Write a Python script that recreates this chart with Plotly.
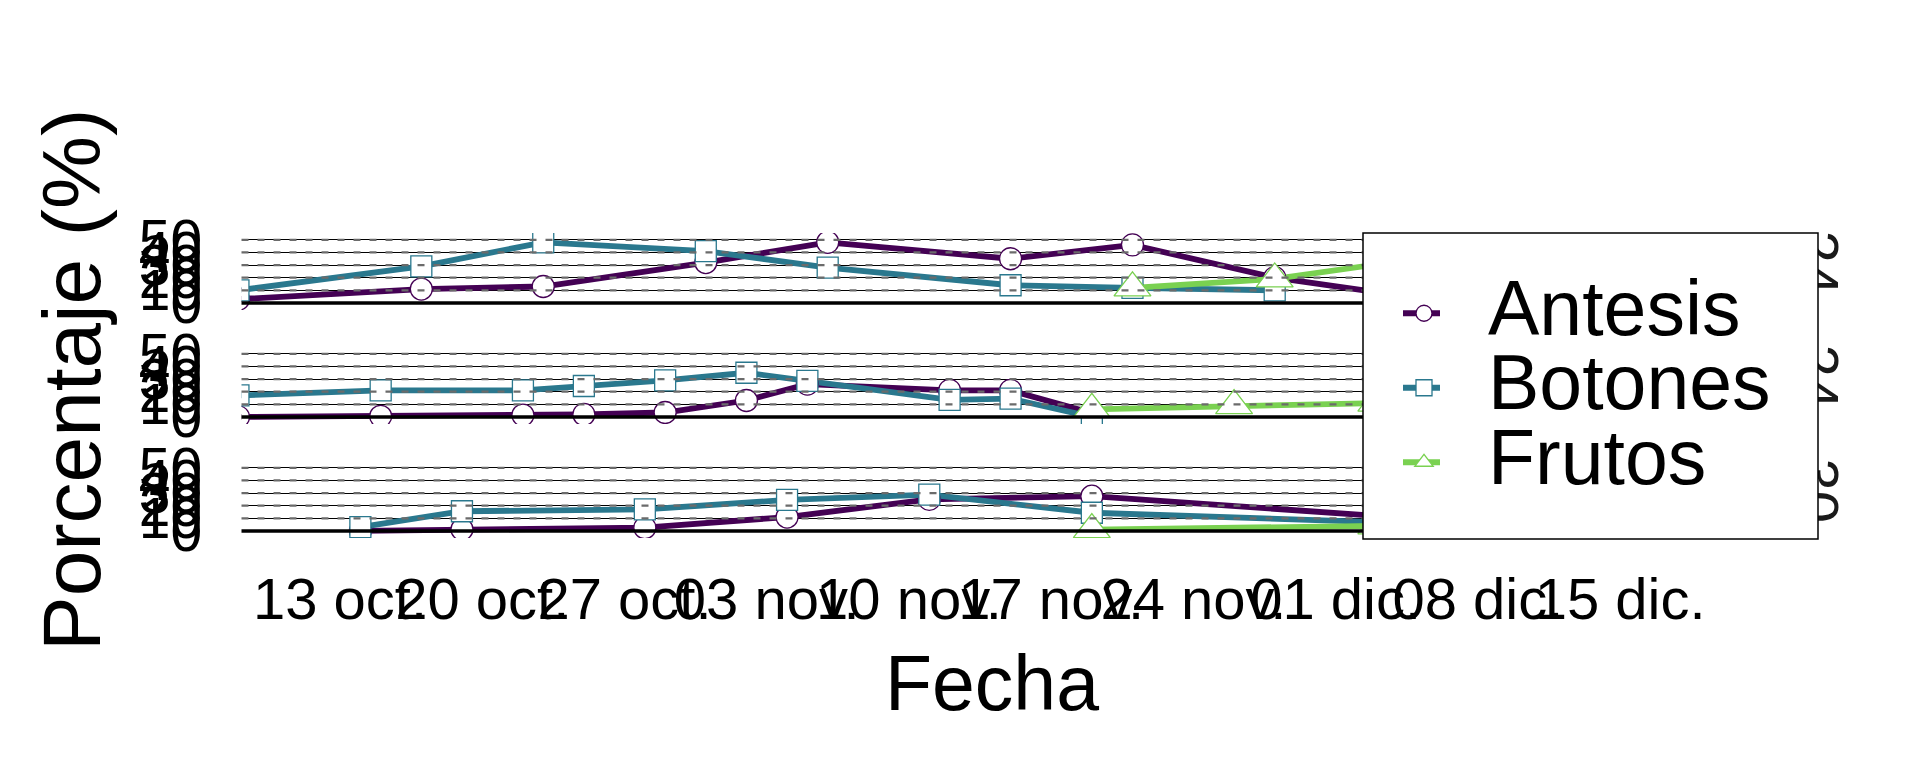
import plotly.graph_objects as go
import pandas as pd

series_names = ["Antesis", "Botones", "Frutos"]
series_colors = ["#440154", "#2A788E", "#7AD151"]
series_symbols = ["circle", "square", "triangle-up"]
marker_sizes = [22, 21, 32]

# Panel 1 (top)
p1_dates = ["2024-10-08", "2024-10-17", "2024-10-23", "2024-10-31", "2024-11-06",
            "2024-11-15", "2024-11-21", "2024-11-28", "2024-12-05"]
p1_antesis = [3, 11, 13, 32, 48, 35, 46, 20, 4]
p1_botones = [10, 29, 48, 41, 28, 14, 12, 10, None]
p1_frutos = [None, None, None, None, None, None, 12, 19, 35]

# Panel 2 (middle)
p2_dates = ["2024-10-08", "2024-10-15", "2024-10-22", "2024-10-25", "2024-10-29",
            "2024-11-02", "2024-11-05", "2024-11-12", "2024-11-15", "2024-11-19",
            "2024-11-26", "2024-12-03"]
p2_antesis = [0, 0.5, 1.5, 2, 3.5, 13, 26, 21, 21, 3, None, None]
p2_botones = [17, 21, 21, 24.5, 29, 35, 28.5, 13.5, 14.5, 0, None, None]
p2_frutos = [None, None, None, None, None, None, None, None, None, 6, 9, 11]

# Panel 3 (bottom)
p3_dates = ["2024-10-14", "2024-10-19", "2024-10-28", "2024-11-04", "2024-11-11",
            "2024-11-19", "2024-12-03"]
p3_antesis = [0, 1.3, 2.6, 11, 25, 27.5, 12]
p3_botones = [3, 15.6, 17, 24.6, 28.7, 14.4, 7]
p3_frutos = [None, None, None, None, None, 1, 4]

strip_labels = ["24", "24", "30"]

y_tickvals = [0, 10, 20, 30, 40, 50]
y_ticktext = ["0", "10", "20", "30", "40", "50"]

x_tickvals = ["2024-10-13", "2024-10-20", "2024-10-27", "2024-11-03", "2024-11-10",
              "2024-11-17", "2024-11-24", "2024-12-01", "2024-12-08", "2024-12-15"]
x_ticktext = ["13 oct.", "20 oct.", "27 oct.", "03 nov.", "10 nov.",
              "17 nov.", "24 nov.", "01 dic.", "08 dic.", "15 dic."]

panels = [
    (p1_dates, [p1_antesis, p1_botones, p1_frutos]),
    (p2_dates, [p2_antesis, p2_botones, p2_frutos]),
    (p3_dates, [p3_antesis, p3_botones, p3_frutos]),
]

W, H = 1920, 768
FONT = "Liberation Sans, Arial, sans-serif"

# panel geometry in pixels
panel_left, panel_right = 241.5, 1790
panel_tops = [233, 347, 461]
panel_h = 77

x_range = [pd.Timestamp("2024-10-13") - pd.Timedelta(days=4.85),
           pd.Timestamp("2024-10-13") + pd.Timedelta(days=71.36)]
y_range = [-5.6, 55.4]
y_mid = (y_range[0] + y_range[1]) / 2

fig = go.Figure()

for pi, (dates, vals) in enumerate(panels):
    ax = "" if pi == 0 else str(pi + 1)
    for si, v in enumerate(vals):
        fig.add_trace(go.Scatter(
            x=dates, y=v, mode="lines", connectgaps=False,
            line=dict(color=series_colors[si], width=5.8),
            xaxis="x" + ax, yaxis="y" + ax, showlegend=False, hoverinfo="skip"))
    for si, v in enumerate(vals):
        fig.add_trace(go.Scatter(
            x=dates, y=v, mode="markers",
            marker=dict(symbol=series_symbols[si], size=marker_sizes[si], color="white",
                        line=dict(color=series_colors[si], width=1.3)),
            xaxis="x" + ax, yaxis="y" + ax, showlegend=False))

# facet strip labels as tick labels of overlaying right-side axes
for pi in range(3):
    ax_num = str(pi + 4)
    base_ax = "" if pi == 0 else str(pi + 1)
    fig.add_trace(go.Scatter(x=[None], y=[None], mode="markers", showlegend=False,
                             xaxis="x" + base_ax, yaxis="y" + ax_num, hoverinfo="skip"))

# legend-only entries
for si, name in enumerate(series_names):
    fig.add_trace(go.Scatter(
        x=[None], y=[None], mode="lines+markers",
        name='<span style="font-size:77px">' + name + '</span>',
        line=dict(color=series_colors[si], width=5.8, dash="0px,38px,37px,400px"),
        marker=dict(symbol=series_symbols[si], size=marker_sizes[si], color="white",
                    line=dict(color=series_colors[si], width=1.3))))

layout = dict(
    width=W, height=H, margin=dict(l=0, r=0, t=0, b=0),
    paper_bgcolor="white", plot_bgcolor="white",
    template="none",
    font=dict(family=FONT, color="black"),
    showlegend=True,
    legend=dict(x=1360 / W, y=1 - 271 / H, xanchor="left", yanchor="top",
                bgcolor="rgba(0,0,0,0)", borderwidth=0,
                font=dict(size=55, family=FONT, color="black"),
                itemwidth=118, tracegroupgap=0),
)

shapes = []
for pi in range(3):
    ax = "" if pi == 0 else str(pi + 1)
    top = panel_tops[pi]
    bottom = top + panel_h
    dom_y = [1 - bottom / H, 1 - top / H]
    xa = dict(domain=[panel_left / W, panel_right / W], type="date", range=x_range,
              showgrid=False, zeroline=False, showline=False,
              tickvals=x_tickvals, ticktext=x_ticktext, tickangle=0,
              ticks="outside", ticklen=10, tickcolor="rgba(0,0,0,0)",
              tickfont=dict(size=58, family=FONT, color="black"),
              automargin=False, anchor="y" + ax)
    if pi != 2:
        xa["showticklabels"] = False
    if pi != 0:
        xa["matches"] = "x"
    ya = dict(domain=dom_y, range=y_range, anchor="x" + ax,
              tickvals=y_tickvals, ticktext=y_ticktext,
              showgrid=True, gridcolor="black", gridwidth=1,
              zeroline=False, showline=False,
              ticks="outside", ticklen=27, tickcolor="rgba(0,0,0,0)",
              tickfont=dict(size=57, family=FONT, color="black"),
              automargin=False)
    layout["xaxis" + ax] = xa
    layout["yaxis" + ax] = ya
    layout["yaxis" + str(pi + 4)] = dict(
        overlaying="y" + ax, side="right", anchor="x" + ax, range=y_range,
        tickvals=[y_mid], ticktext=[strip_labels[pi]], tickangle=90,
        showgrid=False, zeroline=False, showline=False,
        ticks="", ticklabelstandoff=-5,
        tickfont=dict(size=58, family=FONT, color="#1a1a1a"),
        automargin=False)
    for tv in y_tickvals[1:]:
        shapes.append(dict(type="line", xref="x" + ax + " domain", yref="y" + ax,
                           x0=0, x1=1, y0=tv, y1=tv, layer="above",
                           line=dict(color="#6b6b6b", width=2.2, dash="7px,9px")))
    shapes.append(dict(type="line", xref="x" + ax + " domain", yref="y" + ax,
                       x0=0, x1=1, y0=0, y1=0, layer="above",
                       line=dict(color="black", width=3.6)))

# legend box
shapes.append(dict(type="rect", xref="paper", yref="paper", layer="above",
                   x0=1363 / W, x1=1818 / W, y0=1 - 539 / H, y1=1 - 233 / H,
                   fillcolor="white", line=dict(color="black", width=1.5)))

annotations = [
    dict(text="Fecha", showarrow=False, xref="paper", yref="paper",
         x=992 / W, y=1 - 683 / H, xanchor="center", yanchor="middle",
         font=dict(size=77, family=FONT, color="black")),
    dict(text="Porcentaje (%)", textangle=-90, showarrow=False,
         xref="paper", yref="paper",
         x=71 / W, y=1 - 380 / H, xanchor="center", yanchor="middle",
         font=dict(size=82, family=FONT, color="black")),
]

layout["shapes"] = shapes
layout["annotations"] = annotations
fig.update_layout(**layout)
fig.write_html("out.html")
